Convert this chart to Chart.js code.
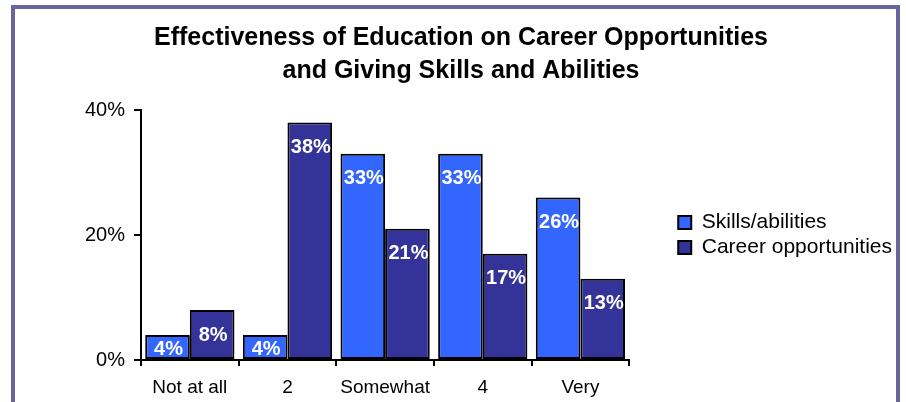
<!DOCTYPE html>
<html>
<head>
<meta charset="utf-8">
<script src="https://cdn.jsdelivr.net/npm/chart.js@4.4.1/dist/chart.umd.min.js"></script>
<style>
  html, body { margin: 0; padding: 0; background: #ffffff; }
  #wrap { position: relative; width: 906px; height: 402px; overflow: hidden; background: #ffffff; }
  #frame { position: absolute; left: 11px; top: 5px; width: 881px; height: 600px; border: 4px solid #65659f; box-sizing: content-box; }
  #c { position: absolute; left: 0; top: 0; }
</style>
</head>
<body>
<div id="wrap">
  <div id="frame"></div>
  <canvas id="c" width="906" height="402"></canvas>
</div>
<script>
const titleLines = ['Effectiveness of Education on Career Opportunities', 'and Giving Skills and Abilities'];
const categories = ['Not at all', '2', 'Somewhat', '4', 'Very'];
const seriesNames = ['Skills/abilities', 'Career opportunities'];
const skillsValues = [4, 4, 33, 33, 26];
const careerValues = [8, 38, 21, 17, 13];
const yTicks = [0, 20, 40];

const FONT = "'Liberation Sans', Arial, Helvetica, sans-serif";

const barLabels = {
  id: 'barLabels',
  afterDatasetsDraw(chart) {
    const ctx = chart.ctx;
    ctx.save();
    ctx.font = 'bold 20px ' + FONT;
    ctx.fillStyle = '#ffffff';
    ctx.textAlign = 'center';
    ctx.textBaseline = 'middle';
    chart.data.datasets.forEach((ds, i) => {
      const meta = chart.getDatasetMeta(i);
      meta.data.forEach((bar, j) => {
        const p = bar.getProps(['x', 'y', 'base'], true);
        const ty = Math.min(p.y + 25, p.base - 10);
        ctx.fillText(ds.data[j] + '%', p.x + 1, ty);
      });
    });
    ctx.restore();
  }
};

new Chart(document.getElementById('c'), {
  type: 'bar',
  data: {
    labels: categories,
    datasets: [
      { label: seriesNames[0], data: skillsValues, backgroundColor: '#3366ff', borderColor: '#000000', borderWidth: 2, borderSkipped: false, categoryPercentage: 0.914, barPercentage: 1.0 },
      { label: seriesNames[1], data: careerValues, backgroundColor: '#333399', borderColor: '#000000', borderWidth: 2, borderSkipped: false, categoryPercentage: 0.914, barPercentage: 1.0 }
    ]
  },
  options: {
    responsive: false,
    animation: false,
    layout: { padding: { top: 8, left: 20, right: 4, bottom: 0 } },
    plugins: {
      title: {
        display: true,
        text: titleLines,
        color: '#000000',
        font: { family: FONT, size: 25, weight: 'bold', lineHeight: 1.34 },
        padding: { top: 13, bottom: 22 }
      },
      legend: {
        position: 'right',
        fullSize: false,
        maxWidth: 320,
        labels: {
          color: '#000000',
          font: { family: FONT, size: 21 },
          boxWidth: 13,
          boxHeight: 13,
          padding: 4
        }
      },
      tooltip: { enabled: false }
    },
    scales: {
      x: {
        offset: true,
        grid: { display: true, offset: true, drawOnChartArea: false, drawTicks: true, tickLength: 6, color: '#000000', lineWidth: 2 },
        border: { display: true, color: '#000000', width: 2 },
        ticks: { color: '#000000', font: { family: FONT, size: 19 }, padding: 10, maxRotation: 0 },
        afterFit(s) { s.height = 42; }
      },
      y: {
        min: 0,
        max: 40,
        afterBuildTicks(s) { s.ticks = yTicks.map(v => ({ value: v })); },
        grid: { display: true, drawOnChartArea: false, drawTicks: true, tickLength: 7, color: '#000000', lineWidth: 2 },
        border: { display: true, color: '#000000', width: 2 },
        ticks: { color: '#000000', font: { family: FONT, size: 20 }, padding: 9, callback: v => v + '%' },
        afterFit(s) { s.width = 121; }
      },
      gap: {
        type: 'linear',
        position: 'right',
        display: true,
        grid: { display: false, drawTicks: false },
        border: { display: false },
        ticks: { display: false },
        afterFit(s) { s.width = 45; }
      }
    }
  },
  plugins: [barLabels]
});
</script>
</body>
</html>
